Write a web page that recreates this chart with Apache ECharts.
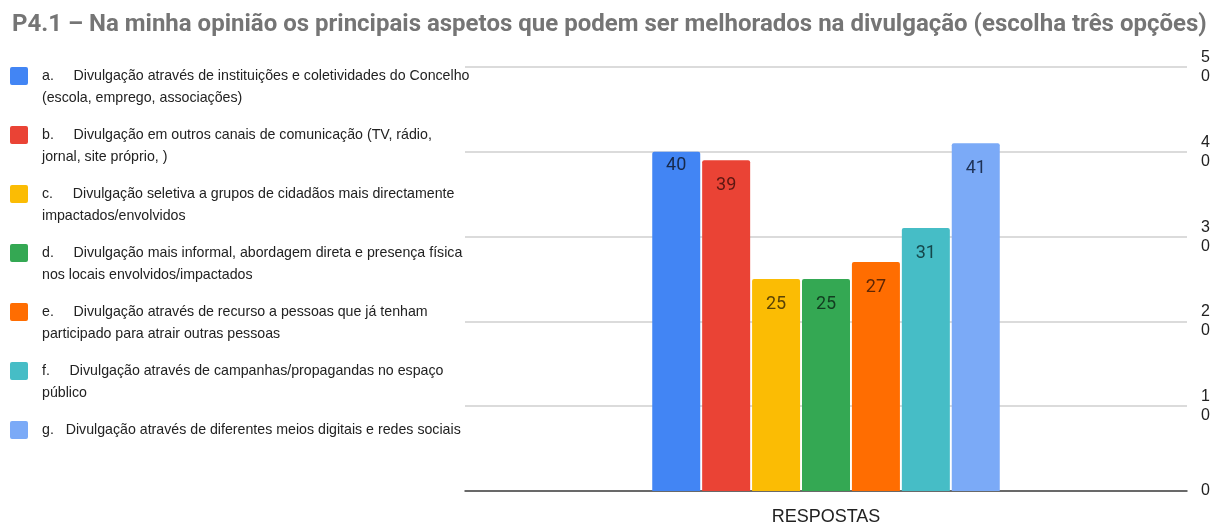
<!DOCTYPE html>
<html>
<head>
<meta charset="utf-8">
<script src="https://cdn.jsdelivr.net/npm/echarts@6/dist/echarts.min.js"></script>
<style>
  html, body { margin: 0; padding: 0; background: #fff; }
  #chart { width: 1216px; height: 526px; }
</style>
</head>
<body>
<div id="chart"></div>
<script>
// Survey question and answer options
const titleText = 'P4.1 – Na minha opinião os principais aspetos que podem ser melhorados na divulgação (escolha três opções)';
const categories = ['RESPOSTAS'];
const optionNames = [
  'a.     Divulgação através de instituições e coletividades do Concelho\n(escola, emprego, associações)',
  'b.     Divulgação em outros canais de comunicação (TV, rádio,\njornal, site próprio, )',
  'c.     Divulgação seletiva a grupos de cidadãos mais directamente\nimpactados/envolvidos',
  'd.     Divulgação mais informal, abordagem direta e presença física\nnos locais envolvidos/impactados',
  'e.     Divulgação através de recurso a pessoas que já tenham\nparticipado para atrair outras pessoas',
  'f.     Divulgação através de campanhas/propagandas no espaço\npúblico',
  'g.   Divulgação através de diferentes meios digitais e redes sociais\n'
];
// Number of answers per option
const answerCounts = [40, 39, 25, 25, 27, 31, 41];
const yTicks = [0, 10, 20, 30, 40, 50];

const barColors = ['#4285F4', '#EA4335', '#FBBC04', '#34A853', '#FF6D01', '#46BDC6', '#7BAAF7'];
const labelColors = ['#17294a', '#5c1712', '#5a4306', '#123d20', '#5e2605', '#15474b', '#1f3256'];

// value label of the first bar sits closer to its top edge
const labelDistance = i => (i === 0 ? 5 : 16);

// legend swatch: small rounded square at the top of an 18x40 box,
// so it lines up with the first line of a two-line entry
const swatchIcon = 'path://M2,0H16Q18,0 18,2V16Q18,18 16,18H2Q0,18 0,16V2Q0,0 2,0Z M0,40L0.01,40Z';

const series = optionNames.map((name, i) => ({
  name: name,
  type: 'bar',
  data: [answerCounts[i]],
  barWidth: 48,
  barGap: '4%',
  itemStyle: { color: barColors[i], borderRadius: [2, 2, 0, 0] },
  label: {
    show: true,
    position: 'insideTop',
    distance: labelDistance(i),
    fontFamily: 'Roboto',
    fontSize: 18,
    color: labelColors[i]
  }
}));

const chart = echarts.init(document.getElementById('chart'), null, { renderer: 'canvas' });
chart.setOption({
  animation: false,
  title: {
    text: titleText,
    left: 7,
    top: 8,
    textStyle: { fontFamily: 'Roboto', fontWeight: 'bold', fontSize: 24, color: '#757575' }
  },
  legend: {
    orient: 'vertical',
    left: 10,
    top: 65,
    padding: 0,
    itemGap: 15,
    itemWidth: 18,
    itemHeight: 40,
    icon: swatchIcon,
    selectedMode: false,
    data: optionNames,
    textStyle: {
      fontFamily: 'Liberation Sans',
      fontSize: 14.2,
      lineHeight: 22,
      color: '#222',
      padding: [0, 0, 0, 9]
    }
  },
  grid: { left: 465, right: 29, top: 67, bottom: 34, containLabel: false },
  xAxis: {
    type: 'category',
    data: categories,
    axisTick: { show: false },
    axisLine: { lineStyle: { color: '#444', width: 1.5 } },
    axisLabel: { fontFamily: 'Liberation Sans', fontSize: 18, color: '#222', margin: 17 }
  },
  yAxis: {
    type: 'value',
    position: 'right',
    min: 0,
    max: 50,
    interval: 10,
    axisLine: { show: false },
    axisTick: { show: false },
    splitLine: { lineStyle: { color: '#cfcfcf', width: 1.5 } },
    axisLabel: {
      margin: 14,
      fontFamily: 'Liberation Sans',
      fontSize: 16,
      lineHeight: 19,
      color: '#222',
      formatter: v => yTicks.indexOf(v) > 0 ? String(v).split('').join('\n') : String(v)
    }
  },
  series: series
});
</script>
</body>
</html>
